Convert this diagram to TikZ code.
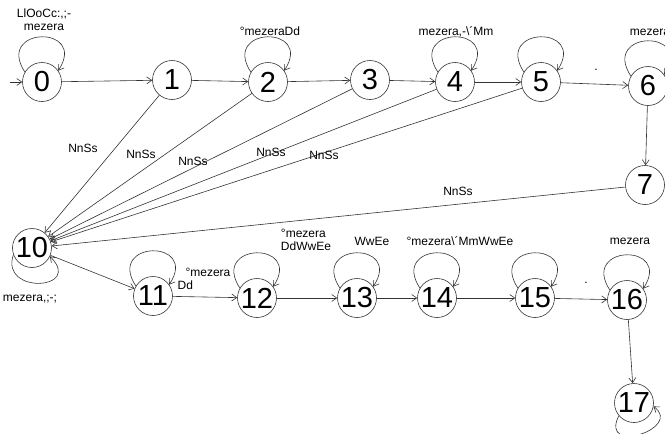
\documentclass[tikz,border=0pt]{standalone}
\usepackage{fontspec}
\setmainfont{Liberation Sans}
\usetikzlibrary{arrows.meta}
\begin{document}
\begin{tikzpicture}[x=1pt,y=-1pt,
  line width=0.6pt, draw=black!80,
  >={Straight Barb[length=5pt,width=7pt]},
  state/.style={circle, draw=black!80, minimum size=39pt, inner sep=0pt,
    font=\fontsize{29}{29}\selectfont},
  lbl/.style={font=\fontsize{12}{13}\selectfont, inner sep=0pt, align=center},
  trans/.style={->, draw=black!80}]
\useasboundingbox (0,0) rectangle (665,434);

% upper row of states
\node[state] (n0) at (42,82) {0};
\node[state] (n1) at (172,80) {1};
\node[state] (n2) at (268,82) {2};
\node[state] (n3) at (370,80) {3};
\node[state] (n4) at (455,82) {4};
\node[state] (n5) at (541,82) {5};
\node[state] (n6) at (648,86) {6};
\node[state] (n7) at (645,185) {7};
% lower row of states
\node[state] (n10) at (32,248) {10};
\node[state] (n11) at (153,296) {11};
\node[state] (n12) at (257,298) {12};
\node[state] (n13) at (357,298) {13};
\node[state] (n14) at (437,298) {14};
\node[state] (n15) at (535,298) {15};
\node[state] (n16) at (627,300) {16};
\node[state] (n17) at (634,403) {17};

% entry arrow
\coordinate (start) at (10,82);
\draw[trans] (start) -- (n0);

% upper chain
\draw[trans] (n0) -- (n1);
\draw[trans] (n1) -- (n2);
\draw[trans] (n2) -- (n3);
\draw[trans] (n3) -- (n4);
\draw[trans] (n4) -- (n5);
\draw[trans] (n5) -- (n6);
\draw[trans] (n6) -- (n7);
\node[lbl] (dot1) at (596,70) {.};

% transitions back to 10
\draw[trans] (n1) -- (n10);
\draw[trans] (n2) -- (n10);
\draw[trans] (n3) -- (n10);
\draw[trans] (n4) -- (n10);
\draw[trans] (n5) -- (n10);
\draw[trans] (n7) -- (n10);
\node[lbl] (ns1) at (83,148) {NnSs};
\node[lbl] (ns2) at (141,154) {NnSs};
\node[lbl] (ns3) at (193,161) {NnSs};
\node[lbl] (ns4) at (271,152) {NnSs};
\node[lbl] (ns5) at (324,155) {NnSs};
\node[lbl] (ns7) at (458,191) {NnSs};

% lower chain
\draw[trans] (n10) -- (n11);
\draw[trans] (n11) -- (n12);
\draw[trans] (n12) -- (n13);
\draw[trans] (n13) -- (n14);
\draw[trans] (n14) -- (n15);
\draw[trans] (n15) -- (n16);
\draw[trans] (n16) -- (n17);
\node[lbl] (dot2) at (586,283) {.};

% self loops above the states
\foreach \s in {n0,n2,n4,n5,n6,n11,n12,n13,n14,n15,n16}{
  \draw[trans] (\s.150) .. controls +(-30,-46) and +(30,-46) .. (\s.35);
}
% self loops below the states
\draw[trans] (n10.200) .. controls +(-14,40) and +(34,34) .. (n10.335);
\draw[trans] (n17.220) .. controls +(-20,40) and +(30,22) .. (n17.350);

% loop labels
\node[lbl] (l0) at (44,20) {LlOoCc:,;-\\mezera};
\node[lbl] (l2) at (270,31) {°mezeraDd};
\node[lbl] (l4) at (456,32) {mezera,-\textbackslash´Mm};
\node[lbl] (l6) at (650,32) {mezera};
\node[lbl] (l10) at (30,299) {mezera,;-;};
\node[lbl, align=left] (l11) at (208,279) {°mezera\\\hspace{-8pt}Dd};
\node[lbl, align=left] (l12) at (306,240) {°mezera\\DdWwEe};
\node[lbl] (l13) at (372,241) {WwEe};
\node[lbl] (l14) at (460,241) {°mezera\textbackslash´MmWwEe};
\node[lbl] (l16) at (630,241) {mezera};
\end{tikzpicture}
\end{document}
